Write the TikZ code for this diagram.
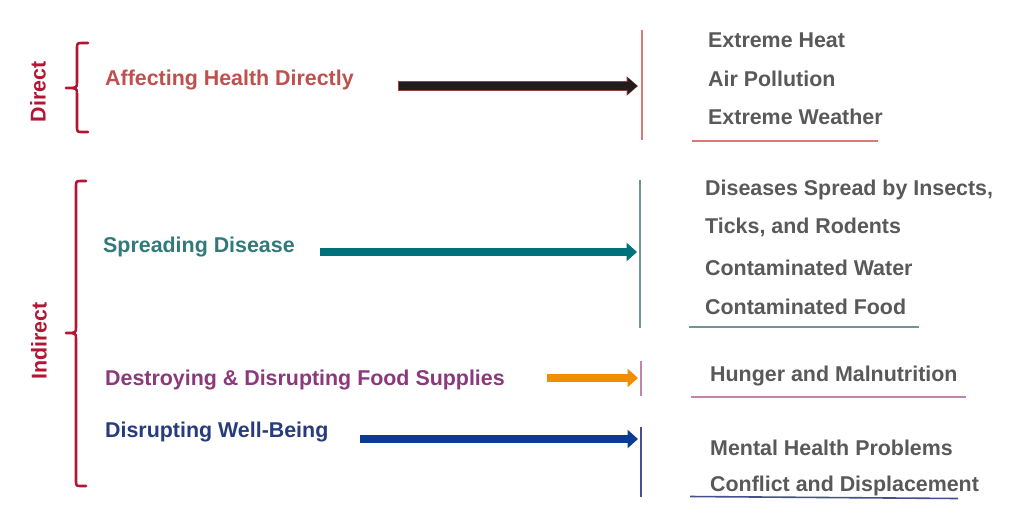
\documentclass[tikz,border=0pt]{standalone}
\usepackage{fontspec}
\setmainfont{Liberation Sans}
\usetikzlibrary{arrows.meta}
\definecolor{crim}{RGB}{178,22,52}
\definecolor{hred}{RGB}{192,80,77}
\definecolor{lred}{RGB}{222,120,118}
\definecolor{tealt}{RGB}{49,122,122}
\definecolor{teala}{RGB}{0,112,122}
\definecolor{tealv}{RGB}{110,150,150}
\definecolor{purp}{RGB}{140,56,124}
\definecolor{pinkl}{RGB}{196,130,172}
\definecolor{orng}{RGB}{242,140,0}
\definecolor{navyt}{RGB}{38,60,124}
\definecolor{navya}{RGB}{10,60,148}
\definecolor{navyl}{RGB}{70,80,140}
\definecolor{gtxt}{RGB}{89,89,89}
\definecolor{blk}{RGB}{35,28,30}
\begin{document}
\begin{tikzpicture}[x=1pt,y=-1pt,
  txt/.style={font=\fontsize{21.4}{25}\selectfont\bfseries, inner sep=0pt, anchor=west, yshift=-1.5pt},
  item/.style={txt, text=gtxt},
  side/.style={font=\fontsize{21.4}{25}\selectfont\bfseries, text=crim, rotate=90, inner sep=0pt},
  brace/.style={draw=crim, line width=2.6pt, line cap=round, line join=round},
  arr/.style={line width=8.5pt, -{Triangle[width=18pt,length=10.5pt]}},
  vline/.style={line width=1.2pt},
  uline/.style={line width=1.6pt}]
\useasboundingbox (0,0) rectangle (1024,528);
\fill[white] (0,0) rectangle (1024,528);

% side labels
\node[side] (direct) at (38,92) {Direct};
\node[side] (indirect) at (39,341) {Indirect};

% braces
\draw[brace] (88,43) -- (82,43) .. controls (77,43) .. (77,50) -- (77,82)
  .. controls (77,88) .. (66,88) .. controls (77,88) .. (77,94) -- (77,125)
  .. controls (77,132) .. (82,132) -- (88,132);
\draw[brace] (86,181) -- (81,181) .. controls (76,181) .. (76,188) -- (76,327)
  .. controls (76,333) .. (66,333) .. controls (76,333) .. (76,339) -- (76,479)
  .. controls (76,486) .. (81,486) -- (86,486);

% category labels
\node[txt, text=hred] (aff) at (105,79) {Affecting Health Directly};
\node[txt, text=tealt] (spr) at (103,246) {Spreading Disease};
\node[txt, text=purp] (food) at (105,379) {Destroying \& Disrupting Food Supplies};
\node[txt, text=navyt] (well) at (105,431) {Disrupting Well-Being};

% arrow anchors and vertical bars
\coordinate (a1s) at (398,86);  \coordinate (a1e) at (638,86);
\coordinate (a2s) at (320,252); \coordinate (a2e) at (637,252);
\coordinate (a3s) at (547,378); \coordinate (a3e) at (638,378);
\coordinate (a4s) at (360,439); \coordinate (a4e) at (638,439);

\coordinate (v1t) at (642,30);  \coordinate (v1b) at (642,140);
\coordinate (v2t) at (640,180); \coordinate (v2b) at (640,328);
\coordinate (v3t) at (641,361); \coordinate (v3b) at (641,396);
\coordinate (v4t) at (641,427); \coordinate (v4b) at (641,497);

\draw[vline, lred] (v1t) -- (v1b);
\draw[vline, tealv] (v2t) -- (v2b);
\draw[vline, pinkl] (v3t) -- (v3b);
\draw[vline, navyl] (v4t) -- (v4b);

% arrows
\draw[line width=9.5pt, hred!80!black, -{Triangle[width=19pt,length=11.5pt]}] (a1s) -- (a1e);
\draw[line width=7.5pt, blk, shorten >=0.8pt, -{Triangle[width=16pt,length=9.5pt]}] ([xshift=0.8pt]a1s) -- (a1e);
\draw[arr, teala] (a2s) -- (a2e);
\draw[arr, orng] (a3s) -- (a3e);
\draw[arr, navya] (a4s) -- (a4e);

% effect items
\node[item] (i1) at (708,39) {Extreme Heat};
\node[item] (i2) at (708,77) {Air Pollution};
\node[item] (i3) at (708,115) {Extreme Weather};
\node[item] (i4) at (705,188) {Diseases Spread by Insects,};
\node[item] (i5) at (705,226) {Ticks, and Rodents};
\node[item] (i6) at (705,266) {Contaminated Water};
\node[item] (i7) at (705,305) {Contaminated Food};
\node[item] (i8) at (710,375) {Hunger and Malnutrition};
\node[item] (i9) at (710,446) {Mental Health Problems};
\node[item] (i10) at (710,484) {Conflict and Displacement};

% underlines
\coordinate (u1l) at (692,141); \coordinate (u1r) at (878,141);
\coordinate (u2l) at (689,327); \coordinate (u2r) at (919,327);
\coordinate (u3l) at (691,397); \coordinate (u3r) at (966,397);
\coordinate (u4l) at (690,496.5); \coordinate (u4r) at (958,498.5);
\draw[uline, lred] (u1l) -- (u1r);
\draw[uline, tealv] (u2l) -- (u2r);
\draw[uline, pinkl] (u3l) -- (u3r);
\draw[uline, navyl] (u4l) -- (u4r);
\end{tikzpicture}
\end{document}
